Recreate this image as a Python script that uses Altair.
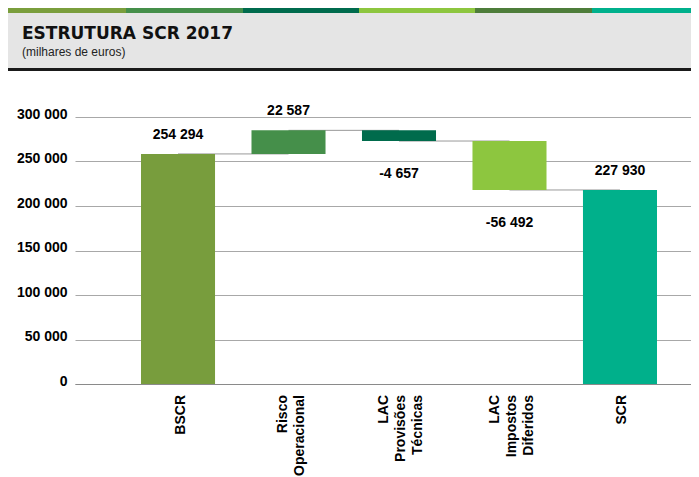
import altair as alt
import pandas as pd

# ---- data ----
categories = ["BSCR", "Risco Operacional", "LAC Provisões Técnicas", "LAC Impostos Diferidos", "SCR"]
bar_start = [0, 258500, 285000, 273000, 0]
bar_end = [258500, 285000, 273000, 218000, 218000]
label_values = [254294, 22587, -4657, -56492, 227930]
bar_colors = ["#789d3d", "#458f4a", "#006b4c", "#8dc63f", "#00b08b"]
strip_colors = ["#7a9e3c", "#458f4a", "#006b4d", "#8dc63f", "#4e7d3a", "#00b08c"]
y_ticks = [0, 50000, 100000, 150000, 200000, 250000, 300000]
title_text = "ESTRUTURA SCR 2017"
subtitle_text = "(milhares de euros)"

FONT = "Liberation Sans"
LH = 17  # line height of the category labels


def fmt(v):
    return f"{v:,}".replace(",", " ")


df = pd.DataFrame({
    "cat": categories,
    "start": bar_start,
    "end": bar_end,
    "value": label_values,
    "color": bar_colors,
    "label": [fmt(v) for v in label_values],
    "nlines": [len(c.split(" ")) for c in categories],
})
df["low"] = df[["start", "end"]].min(axis=1)
df["high"] = df[["start", "end"]].max(axis=1)

conn = pd.DataFrame({
    "cat": categories[:-1],
    "next": categories[1:],
    "level": bar_end[:-1],
})

W, H = 616, 267

xscale = alt.Scale(domain=categories, paddingInner=0.33, paddingOuter=0.4525,
                   align=0.66, round=False)
yscale = alt.Scale(domain=[0, 300000], nice=False, zero=True)

x_axis = alt.Axis(title=None, labels=False, ticks=False, domain=True,
                  domainColor="#8a8a8a", domainWidth=1.2, grid=False)
y_axis = alt.Axis(title=None, values=y_ticks, grid=True, gridColor="#a8a8a8", gridWidth=1.2,
                  ticks=False, domain=False, labelPadding=8, labelFont=FONT, labelFontSize=14,
                  labelFontWeight="bold", labelColor="#000", labelBaseline="alphabetic",
                  labelOffset=1,
                  labelExpr="replace(format(datum.value, ','), regexp(',', 'g'), ' ')")

X = alt.X("cat:N", scale=xscale, axis=x_axis)

connectors = alt.Chart(conn).mark_rule(color="#999999", strokeWidth=1).encode(
    x=alt.X("cat:N", scale=xscale, axis=x_axis),
    x2="next:N",
    y=alt.Y("level:Q", scale=yscale, axis=y_axis),
)

bars = alt.Chart(df).mark_bar().encode(
    x=X,
    y=alt.Y("start:Q", scale=yscale, axis=y_axis),
    y2="end:Q",
    color=alt.Color("color:N", scale=None),
)

pos_labels = alt.Chart(df).transform_filter("datum.value > 0").mark_text(
    dy=-19, baseline="middle", align="center", font=FONT, fontSize=14,
    fontWeight="bold", color="#000"
).encode(x=X, y=alt.Y("high:Q", scale=yscale), text="label:N")

neg_labels = alt.Chart(df).transform_filter("datum.value < 0").mark_text(
    dy=33, baseline="middle", align="center", font=FONT, fontSize=14,
    fontWeight="bold", color="#000"
).encode(x=X, y=alt.Y("low:Q", scale=yscale), text="label:N")

# category labels, rotated, one line per word, block centred on the band
cat_label_layers = []
for n in sorted(set(df["nlines"])):
    cat_label_layers.append(
        alt.Chart(df).transform_filter(f"datum.nlines == {n}").mark_text(
            angle=270, align="right", baseline="middle", lineBreak=" ",
            lineHeight=LH, font=FONT, fontSize=14, fontWeight="bold", color="#000",
            dy=-(n - 1) * LH / 2 + 2.5
        ).encode(x=X, y=alt.value(H + 11), text="cat:N")
    )

dummy = alt.Data(values=[{"a": 1}])


def vrect(x1, x2, y1, y2, color):
    return alt.Chart(dummy).mark_rect(color=color).encode(
        x=alt.value(x1), x2=alt.value(x2), y=alt.value(y1), y2=alt.value(y2))


# header decoration (pixel positions relative to plot origin)
bounds = [-67, 51, 168, 284, 400, 517, 616]
header = [vrect(-67, 616, -104, -49, "#e5e5e5")]
for i, c in enumerate(strip_colors):
    header.append(vrect(bounds[i], bounds[i + 1], -109, -104, c))
header.append(vrect(-67, 616, -49, -46, "#1a1a1a"))

title = alt.Chart(dummy).mark_text(
    align="left", baseline="alphabetic", font="DejaVu Sans", fontSize=17,
    fontWeight="bold", color="#111"
).encode(x=alt.value(-53), y=alt.value(-78.5), text=alt.value(title_text))

subtitle = alt.Chart(dummy).mark_text(
    align="left", baseline="alphabetic", font=FONT, fontSize=12, color="#222"
).encode(x=alt.value(-53), y=alt.value(-61.5), text=alt.value(subtitle_text))

chart = alt.layer(
    *header, title, subtitle, connectors, bars, pos_labels, neg_labels, *cat_label_layers
).properties(
    width=W, height=H,
    autosize=alt.AutoSizeParams(type="none"),
    padding={"left": 67, "top": 109, "right": 0, "bottom": 93},
).configure_view(stroke=None)

chart.save("out.html", embed_options={"renderer": "svg", "actions": False})
